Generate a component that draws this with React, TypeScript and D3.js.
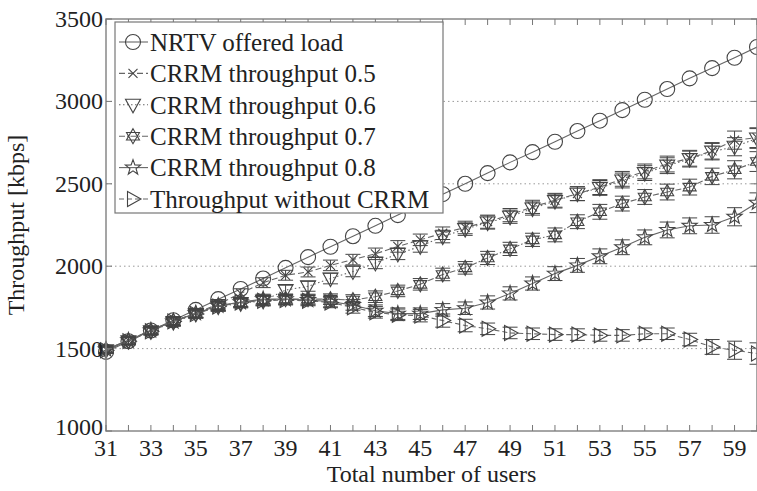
import React from "react";
import * as d3 from "d3";

const users = [31,32,33,34,35,36,37,38,39,40,41,42,43,44,45,46,47,48,49,50,51,52,53,54,55,56,57,58,59,60];
const nrtv = [1480,1545,1610,1672,1735,1800,1862,1925,1990,2055,2118,2182,2245,2310,2375,2437,2500,2565,2630,2692,2755,2820,2883,2947,3010,3075,3140,3202,3265,3330];
const crrm05 = [1495,1550,1612,1665,1715,1770,1835,1900,1945,1965,2005,2040,2075,2120,2160,2200,2235,2270,2310,2360,2400,2440,2480,2530,2575,2620,2655,2700,2765,2780];
const crrm06 = [1490,1545,1605,1660,1710,1755,1775,1790,1855,1878,1925,1968,2020,2075,2120,2180,2225,2265,2300,2350,2395,2440,2475,2520,2565,2610,2650,2695,2725,2775];
const crrm07 = [1495,1548,1608,1668,1712,1760,1780,1795,1800,1800,1800,1795,1815,1850,1890,1950,1990,2050,2105,2160,2190,2270,2330,2380,2420,2450,2480,2545,2585,2635];
const crrm08 = [1495,1550,1610,1665,1715,1760,1782,1800,1800,1795,1785,1765,1730,1712,1712,1735,1745,1780,1835,1895,1955,2005,2060,2115,2175,2220,2245,2250,2300,2385];
const noCrrm = [1490,1545,1605,1665,1710,1755,1780,1790,1795,1790,1780,1750,1720,1705,1700,1670,1640,1620,1595,1590,1585,1585,1580,1580,1590,1590,1555,1510,1490,1470];
const errCrrm = [20,22,22,25,25,28,28,30,30,30,32,32,35,35,35,38,38,40,40,40,42,42,45,45,45,48,48,50,55,60];
const errNo = [20,22,22,25,25,28,28,30,30,30,32,35,35,35,38,40,38,35,35,35,35,35,35,35,35,35,38,45,55,65];

const yTicks = [1000,1500,2000,2500,3000,3500];
const xTickLabels = [31,33,35,37,39,41,43,45,47,49,51,53,55,57,59];
const gridVals = [1500,2000,2500,3000];

type Shape = "circle" | "x" | "tridown" | "hexa" | "penta" | "triright";

const seriesNames = [
  "NRTV offered load",
  "CRRM throughput 0.5",
  "CRRM throughput 0.6",
  "CRRM throughput 0.7",
  "CRRM throughput 0.8",
  "Throughput without CRRM",
];
const seriesData = [nrtv, crrm05, crrm06, crrm07, crrm08, noCrrm];
const seriesErr: (number[] | null)[] = [null, errCrrm, errCrrm, errCrrm, errCrrm, errNo];
const seriesShape: Shape[] = ["circle", "x", "tridown", "hexa", "penta", "triright"];
const seriesDash = ["", "6,3", "1.5,2.5", "6,2,1.5,2", "", "5,3"];

const W = 757, H = 491;
const L = 106, R = 757, T = 19, B = 431;
const INK = "#444";
const LINE = "#666";
const TXT: React.CSSProperties = { fontFamily: "Liberation Serif, Times New Roman, serif" };

function Marker({ shape, x, y }: { shape: Shape; x: number; y: number }) {
  const s = { fill: "none", stroke: INK, strokeWidth: 1.1 };
  switch (shape) {
    case "circle":
      return <circle cx={x} cy={y} r={7.5} {...s} />;
    case "x":
      return <path d={`M${x - 4.5},${y - 4.5}L${x + 4.5},${y + 4.5}M${x - 4.5},${y + 4.5}L${x + 4.5},${y - 4.5}`} {...s} />;
    case "tridown":
      return <path d={`M${x - 7.5},${y - 5.5}L${x + 7.5},${y - 5.5}L${x},${y + 8}Z`} {...s} />;
    case "triright":
      return <path d={`M${x - 5.5},${y - 7.5}L${x + 8},${y}L${x - 5.5},${y + 7.5}Z`} {...s} />;
    case "hexa": {
      const r = 7.5;
      const t1 = [0, 1, 2].map(i => {
        const a = -Math.PI / 2 + (i * 2 * Math.PI) / 3;
        return [x + r * Math.cos(a), y + r * Math.sin(a)];
      });
      const t2 = [0, 1, 2].map(i => {
        const a = Math.PI / 2 + (i * 2 * Math.PI) / 3;
        return [x + r * Math.cos(a), y + r * Math.sin(a)];
      });
      const p = (t: number[][]) => "M" + t.map(q => q.join(",")).join("L") + "Z";
      return <path d={p(t1) + p(t2)} {...s} />;
    }
    case "penta": {
      const pts: string[] = [];
      for (let i = 0; i < 10; i++) {
        const r = i % 2 === 0 ? 8 : 3.2;
        const a = -Math.PI / 2 + (i * Math.PI) / 5;
        pts.push(`${x + r * Math.cos(a)},${y + r * Math.sin(a)}`);
      }
      return <path d={"M" + pts.join("L") + "Z"} {...s} />;
    }
  }
  return null;
}

export default function App() {
  const x = d3.scaleLinear().domain([31, 60]).range([L, R]);
  const y = d3.scaleLinear().domain([1000, 3500]).range([B, T]);
  const line = (vals: number[]) =>
    d3.line<number>().x((_, i) => x(users[i])).y(v => y(v))(vals) || "";

  const legX = 115, legY = 22, legW = 328, legH = 191;
  const rowH = 31.4;

  return (
    <svg width={W} height={H} style={{ position: "absolute", left: 0, top: 0, background: "#fff" }}>
      <rect x={0} y={0} width={W} height={H} fill="#fff" />
      {gridVals.map(v => (
        <line key={v} x1={L} x2={R} y1={y(v)} y2={y(v)} stroke="#999" strokeWidth={1} strokeDasharray="1.5,3" />
      ))}
      {seriesData.map((vals, si) => (
        <g key={si}>
          <path d={line(vals)} fill="none" stroke={LINE} strokeWidth={1.1} strokeDasharray={seriesDash[si] || undefined} />
          {seriesErr[si] &&
            vals.map((v, i) => {
              const e = (seriesErr[si] as number[])[i];
              const cx = x(users[i]);
              const y1 = y(v - e), y2 = y(v + e);
              return (
                <path key={i} d={`M${cx},${y1}L${cx},${y2}M${cx - 7.5},${y1}L${cx + 7.5},${y1}M${cx - 7.5},${y2}L${cx + 7.5},${y2}`} stroke={INK} strokeWidth={1} fill="none" />
              );
            })}
          {vals.map((v, i) => (
            <Marker key={i} shape={seriesShape[si]} x={x(users[i])} y={y(v)} />
          ))}
        </g>
      ))}
      <rect x={L} y={T} width={R - L} height={B - T} fill="none" stroke="#888" strokeWidth={1.5} />
      {users.map(u => (
        <g key={u}>
          <line x1={x(u)} x2={x(u)} y1={B} y2={B - 6} stroke="#777" />
          <line x1={x(u)} x2={x(u)} y1={T} y2={T + 6} stroke="#777" />
        </g>
      ))}
      {yTicks.map(v => (
        <g key={v}>
          <line x1={L} x2={L + 6} y1={y(v)} y2={y(v)} stroke="#777" />
          <line x1={R} x2={R - 6} y1={y(v)} y2={y(v)} stroke="#777" />
          <text x={L - 3} y={y(v) - (v === 1000 ? 4 : 0)} dy="0.33em" textAnchor="end" fontSize={24} fill="#222" style={TXT}>{v}</text>
        </g>
      ))}
      {xTickLabels.map(u => (
        <text key={u} x={x(u)} y={B + 25} textAnchor="middle" fontSize={24} fill="#222" style={TXT}>{u}</text>
      ))}
      <text x={(L + R) / 2} y={H - 9} textAnchor="middle" fontSize={24} fill="#222" style={TXT}>Total number of users</text>
      <text transform={`translate(24,${(T + B) / 2}) rotate(-90)`} textAnchor="middle" fontSize={24} fill="#222" style={TXT}>Throughput [kbps]</text>
      <rect x={legX} y={legY} width={legW} height={legH} fill="#fff" stroke="#777" strokeWidth={1.2} />
      {seriesNames.map((name, i) => {
        const cy = legY + 20 + i * rowH;
        return (
          <g key={name}>
            <line x1={legX + 4} x2={legX + 33} y1={cy} y2={cy} stroke={LINE} strokeWidth={1.1} strokeDasharray={seriesDash[i] || undefined} />
            <Marker shape={seriesShape[i]} x={legX + 18} y={cy} />
            <text x={legX + 35} y={cy} dy="0.35em" fontSize={25} fill="#222" style={TXT}>{name}</text>
          </g>
        );
      })}
    </svg>
  );
}
